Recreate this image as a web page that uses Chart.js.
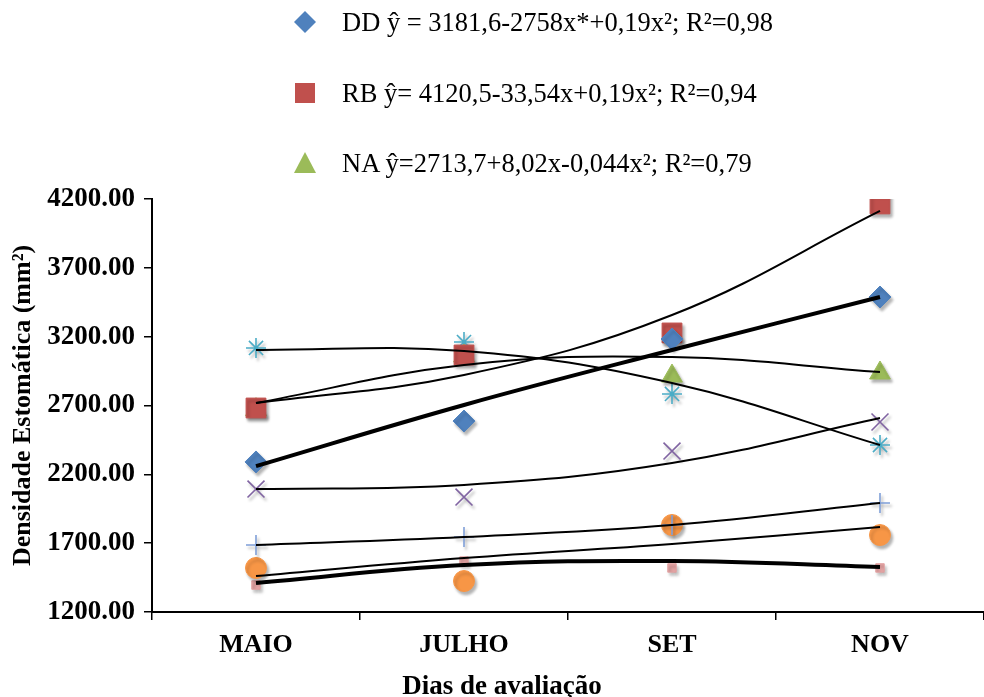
<!DOCTYPE html>
<html>
<head>
<meta charset="utf-8">
<script src="https://cdn.jsdelivr.net/npm/chart.js@4"></script>
<style>
  body { margin: 0; background: #fff; }
  #wrap { position: relative; width: 984px; height: 697px; overflow: hidden; }
  #legend { position: absolute; left: 292px; top: 0; font-family: 'Liberation Serif', serif; font-size: 26.5px; color: #000; }
  #legend div { position: absolute; left: 0; white-space: nowrap; display: flex; align-items: center; height: 30px; }
  #legend svg { width: 26px; height: 26px; margin-right: 24px; }
  #xTitle { position: absolute; left: 502px; top: 685px; transform: translate(-50%, -50%); font-family: 'Liberation Serif', serif; font-weight: bold; font-size: 27px; white-space: nowrap; color: #000; }
</style>
</head>
<body>
<div id="wrap">
  <canvas id="densityChart"></canvas>
  <div id="legend"></div>
  <div id="xTitle">Dias de avaliação</div>
</div>
<script>
const months = ['MAIO', 'JULHO', 'SET', 'NOV'];

// observed means (markers)
const ddValues = [2290, 2587, 3183, 3488];
const rbValues = [2682, 3067, 3227, 4164];
const naValues = [2670, 3060, 2914, 2936];
const asteriskValues = [3118, 3161, 2784, 2413];
const xValues = [2093, 2035, 2369, 2580];
const plusValues = [1687, 1745, 1832, 1992];
const circleValues = [1520, 1425, 1832, 1759];
const smallRectValues = [1396, 1570, 1520, 1520];

// fitted curves
const ddTrend = [2260, 2704, 3103, 3488];
const rbTrend = [2718, 2922, 3357, 4113];
const naTrend = [2718, 2994, 3052, 2943];
const asteriskTrend = [3103, 3096, 2863, 2413];
const xTrend = [2093, 2123, 2282, 2609];
const plusTrend = [1687, 1745, 1832, 1992];
const circleTrend = [1461, 1592, 1694, 1817];
const smallRectTrend = [1411, 1541, 1570, 1527];

const legendLabels = [
  'DD ŷ = 3181,6-2758x*+0,19x²; R²=0,98',
  'RB ŷ= 4120,5-33,54x+0,19x²; R²=0,94',
  'NA ŷ=2713,7+8,02x-0,044x²; R²=0,79'
];

const yTicks = { min: 1200, max: 4200, step: 500 };

const markerSet = (label, data, color, style, radius) => ({
  label,
  data,
  showLine: false,
  pointStyle: style,
  pointRadius: radius,
  pointHoverRadius: radius,
  pointBackgroundColor: color,
  pointBorderColor: color,
  pointBorderWidth: (style === 'star' || style === 'cross' || style === 'crossRot') ? 1.6 : 1,
  order: 2,
  marker: true
});

const trendSet = (label, data, width) => ({
  label,
  data,
  borderColor: '#000',
  borderWidth: width,
  pointRadius: 0,
  tension: 0.4,
  fill: false,
  order: 1
});

const shadowPlugin = {
  id: 'markerShadow',
  beforeDatasetDraw(chart, args) {
    const ds = chart.data.datasets[args.index];
    if (!ds.marker) return;
    const ctx = chart.ctx;
    ctx.save();
    ctx.shadowColor = 'rgba(0,0,0,0.3)';
    ctx.shadowOffsetX = 2;
    ctx.shadowOffsetY = 3;
    ctx.shadowBlur = 3;
  },
  afterDatasetDraw(chart, args) {
    const ds = chart.data.datasets[args.index];
    if (!ds.marker) return;
    chart.ctx.restore();
  }
};

const ctx = document.getElementById('densityChart').getContext('2d');
new Chart(ctx, {
  type: 'line',
  data: {
    labels: months,
    datasets: [
      markerSet('DD', ddValues, '#4F81BD', 'rectRot', 11),
      markerSet('RB', rbValues, '#C0504D', 'rect', 14),
      markerSet('NA', naValues, '#9BBB59', 'triangle', 12),
      markerSet('S4', asteriskValues, '#4BACC6', 'star', 10),
      markerSet('S5', xValues, '#8064A2', 'crossRot', 12),
      markerSet('S6', plusValues, '#7F9FD8', 'cross', 10),
      markerSet('S7', circleValues, '#F79646', 'circle', 10.5),
      markerSet('S8', smallRectValues, '#E3A3A3', 'rect', 6),
      trendSet('DD fit', ddTrend, 4),
      trendSet('RB fit', rbTrend, 2),
      trendSet('NA fit', naTrend, 2),
      trendSet('S4 fit', asteriskTrend, 2),
      trendSet('S5 fit', xTrend, 2),
      trendSet('S6 fit', plusTrend, 2),
      trendSet('S7 fit', circleTrend, 2),
      trendSet('S8 fit', smallRectTrend, 4)
    ]
  },
  plugins: [shadowPlugin],
  options: {
    responsive: true,
    maintainAspectRatio: false,
    animation: false,
    layout: { autoPadding: false, padding: { top: 199, right: -4, left: 0, bottom: 0 } },
    scales: {
      x: {
        offset: true,
        afterFit: (scale) => {
          scale.height = 85;
          scale.paddingLeft = 0;
          scale.paddingRight = 0;
        },
        grid: { offset: true, drawOnChartArea: false, drawTicks: true, tickLength: 8, color: '#000', lineWidth: 1.5 },
        border: { display: true, color: '#000', width: 2 },
        ticks: { color: '#000', padding: 10, font: { family: 'Liberation Serif', size: 26, weight: 'bold' } }
      },
      y: {
        min: yTicks.min,
        max: yTicks.max,
        afterFit: (scale) => { scale.width = 152; },
        grid: { drawOnChartArea: false, drawTicks: true, tickLength: 8, color: '#000', lineWidth: 1.5 },
        border: { display: true, color: '#000', width: 2 },
        ticks: {
          stepSize: yTicks.step,
          color: '#000',
          padding: 9,
          font: { family: 'Liberation Serif', size: 27, weight: 'bold' },
          callback: (value) => value.toFixed(2)
        },
        title: {
          display: true,
          text: 'Densidade Estomática (mm²)',
          color: '#000',
          padding: { top: 8, bottom: 4 },
          font: { family: 'Liberation Serif', size: 26, weight: 'bold' }
        }
      }
    },
    plugins: {
      legend: { display: false },
      tooltip: { enabled: false }
    }
  }
});

// legend for the three named curves
const legendShapes = [
  '<svg viewBox="0 0 26 26"><polygon points="13,2 24,13 13,24 2,13" fill="#4F81BD"/></svg>',
  '<svg viewBox="0 0 26 26"><rect x="3" y="3" width="20" height="20" fill="#C0504D"/></svg>',
  '<svg viewBox="0 0 26 26"><polygon points="13,2 24,23 2,23" fill="#9BBB59"/></svg>'
];
const legendTops = [7, 78, 148];
const legendEl = document.getElementById('legend');
legendLabels.forEach((text, i) => {
  const row = document.createElement('div');
  row.style.top = legendTops[i] + 'px';
  row.innerHTML = legendShapes[i] + '<span>' + text + '</span>';
  legendEl.appendChild(row);
});
</script>
</body>
</html>
